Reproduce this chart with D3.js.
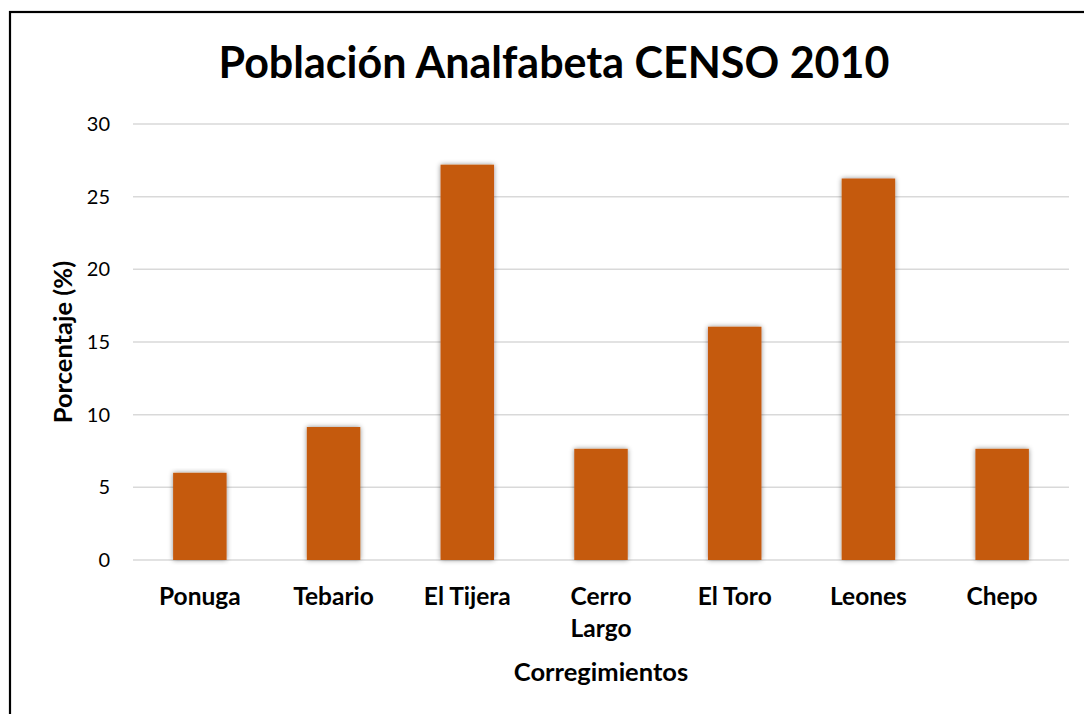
<!DOCTYPE html>
<html><head><meta charset="utf-8">
<script src="https://cdn.jsdelivr.net/npm/d3@7"></script>
<style>body{margin:0;background:#fff}svg{display:block}text{font-family:Lato,"Open Sans",sans-serif}</style>
</head><body><svg id="c" width="1084" height="714"></svg>
<script>
const categories = ["Ponuga","Tebario","El Tijera","Cerro Largo","El Toro","Leones","Chepo"];
const values = [6.0, 9.15, 27.2, 7.65, 16.05, 26.25, 7.65];
const yTicks = [0,5,10,15,20,25,30];

(function(){
const svg = d3.select("#c");
const defs = svg.append("defs");
const f = defs.append("filter").attr("id","sh").attr("x","-20%").attr("y","-5%").attr("width","140%").attr("height","110%");
f.append("feDropShadow").attr("dx",0).attr("dy",0).attr("stdDeviation",2.5).attr("flood-color","#000").attr("flood-opacity",0.45);

svg.append("rect").attr("x",10).attr("y",12).attr("width",1100).attr("height",720)
  .attr("fill","#fff").attr("stroke","#000").attr("stroke-width",2.2);

const pl=133, pr=1069, pt=124, pb=560;
const x = d3.scaleBand().domain(categories).range([pl,pr]).paddingInner(0.6).paddingOuter(0.3);
const y = d3.scaleLinear().domain([0,30]).range([pb,pt]);

svg.append("g").selectAll("line").data(yTicks).join("line")
  .attr("x1",pl).attr("x2",pr).attr("y1",d=>y(d)).attr("y2",d=>y(d))
  .attr("stroke","#d9d9d9").attr("stroke-width",1.5);

const yAxis = svg.append("g").attr("transform",`translate(${pl-23},0)`)
  .call(d3.axisLeft(y).tickValues(yTicks).tickSize(0).tickPadding(0));
yAxis.select(".domain").remove();
yAxis.selectAll("text").attr("font-size",20).attr("fill","#000").style("font-family","Lato,'Open Sans',sans-serif");

svg.append("g").selectAll("rect").data(values).join("rect")
  .attr("x",(d,i)=>x(categories[i])).attr("width",x.bandwidth())
  .attr("y",d=>y(d)).attr("height",d=>y(0)-y(d))
  .attr("fill","#c55a11").attr("filter","url(#sh)");

const xl = svg.append("g").selectAll("text").data(categories).join("text")
  .attr("x",d=>x(d)+x.bandwidth()/2).attr("y",605)
  .attr("text-anchor","middle").attr("font-size",24.5).attr("font-weight","bold").attr("fill","#000");
xl.each(function(d){
  const t=d3.select(this);
  const parts = d==="Cerro Largo" ? ["Cerro","Largo"] : [d];
  parts.forEach((p,i)=>t.append("tspan").attr("x",x(d)+x.bandwidth()/2).attr("dy",i?32:0).text(p));
});

svg.append("text").attr("x",601).attr("y",681).attr("text-anchor","middle")
  .attr("font-size",25.5).attr("font-weight","bold").text("Corregimientos");
svg.append("text").attr("transform","translate(72,342) rotate(-90)").attr("text-anchor","middle")
  .attr("font-size",25.5).attr("font-weight","bold").text("Porcentaje (%)");
svg.append("text").attr("x",554).attr("y",78).attr("text-anchor","middle")
  .attr("font-size",43).attr("font-weight","bold").text("Población Analfabeta CENSO 2010");
})();
</script></body></html>
